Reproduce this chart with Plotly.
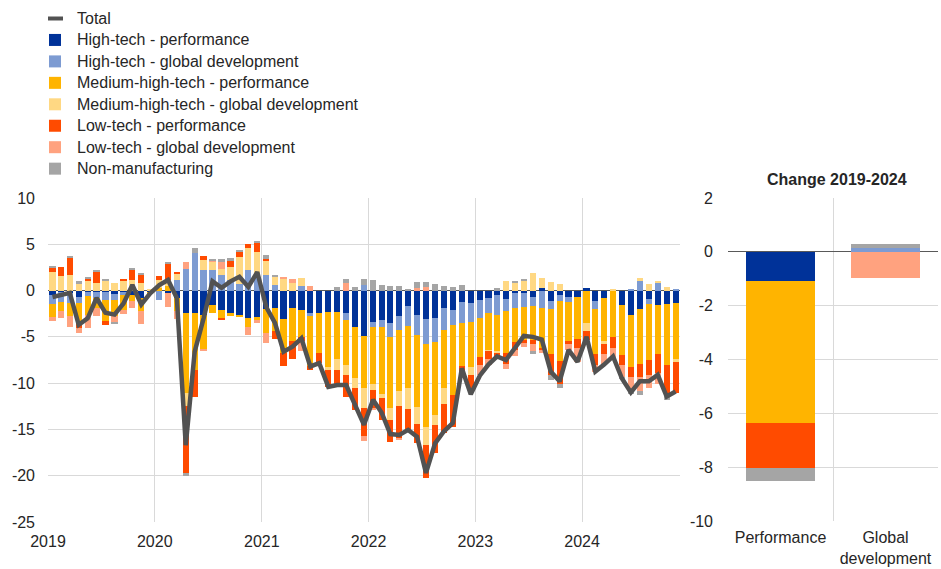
import plotly.graph_objects as go
import pandas as pd

# ---------------- data ----------------
months = pd.date_range("2019-01-01", periods=71, freq="MS")

ht_perf = [-0.45, -0.2, -0.3, -0.65, -0.1, -0.2, -0.1, -0.4, -0.2, -0.5, -0.85, -0.2,
           0.0, -0.3, -0.8, -2.4, -2.45, -2.6, -1.55, -2.1, -2.45, -2.6, -3.0, -2.9,
           -2.0, -1.9, -3.1, -1.9, -2.1, -2.45, -2.45, -2.3, -2.27, -2.45, -3.9, -4.95,
           -3.35, -3.15, -3.5, -2.8, -1.7, -2.6, -3.1, -3.0, -1.9, -2.1, -1.2, -1.35,
           -1.05, -0.85, -0.5, -0.95, -0.3, -0.3, -0.7, 0.3, -1.15, -0.45, -0.7, -0.7,
           0.3, -1.15, -0.85, 0.0, -1.6, -2.65, -1.95, -0.95, -1.6, -1.5, -1.3]
ht_glob = [-1.0, -1.0, -1.0, -0.7, -0.45, -0.6, -0.9, -0.6, -0.25, 0.0, 0.0, 0.0,
           -1.0, 0.0, 1.1, 2.35, 4.1, 2.2, 2.25, 1.7, 1.15, 0.7, 2.25, 1.7,
           1.7, 0.6, 0.0, 0.0, 0.5, -0.35, 0.0, 0.0, 0.0, -0.7, 0.0, 0.6,
           -0.6, -0.8, -1.55, -1.5, -2.1, -2.2, -2.65, -2.6, -2.4, -1.6, -2.3, -2.0,
           -1.9, -1.55, -2.1, -1.3, -1.55, -1.45, -0.95, -1.9, -0.8, -0.7, -0.5, 0.0,
           0.0, -0.85, 0.0, 0.0, 0.0, 0.2, 1.0, -0.45, 0.85, 0.0, 0.2]
mht_perf = [-1.4, -1.0, -1.5, -2.0, -2.1, -1.05, -2.3, -1.8, -1.65, -0.6, -1.35, -0.2,
            0.3, 0.5, -1.4, -8.7, -6.15, -3.8, -0.9, -0.9, -0.25, -0.3, -0.9, -0.3,
            -2.6, -2.5, -3.65, -3.6, -2.9, -5.4, -4.3, -6.0, -5.13, -4.85, -5.55, -5.6,
            -6.15, -7.2, -7.65, -6.6, -6.75, -7.8, -8.95, -7.8, -6.25, -7.55, -4.6, -4.95,
            -4.2, -4.05, -4.0, -4.45, -3.75, -3.6, -3.7, -4.4, -4.95, -6.45, -4.25, -4.55,
            -3.55, -4.8, -4.6, -5.0, -5.4, -5.6, -5.95, -6.1, -5.2, -6.55, -6.05]
mht_glob = [2.0, 1.6, 1.7, 0.7, 1.0, 0.8, 1.1, 0.85, 1.05, 1.15, 0.8, 0.1,
            0.85, 0.6, 0.7, -1.4, 0.0, 1.05, 0.85, 0.6, 1.45, 2.95, 2.35, 2.5,
            1.6, 0.9, 1.2, 0.8, 0.85, 0.0, 0.0, -0.3, -1.15, -1.1, -1.1, -2.15,
            -0.6, -0.45, -1.25, -1.6, -2.25, -1.8, -1.95, -1.1, -1.7, 0.0, 0.0, -0.8,
            0.0, -0.1, -0.1, 1.0, 0.85, 1.1, 1.85, 1.1, 0.95, 0.75, 0.0, 0.0,
            -0.85, 0.0, -0.35, 0.2, 0.0, 0.0, 0.35, 0.75, 0.15, 0.4, -0.35]
lt_perf = [0.45, 0.9, 1.85, -0.7, 0.25, 1.25, -0.4, 0.0, 0.15, 1.1, 0.95, 0.0,
           0.45, 1.8, 0.25, -7.2, -2.85, 0.45, 0.0, -0.15, 0.7, 0.55, 0.4, 0.9,
           0.1, -0.8, -1.45, -1.9, -0.5, -0.35, -1.1, -1.8, -1.6, -2.35, -2.35, -3.05,
           -2.0, -2.35, -2.4, -3.5, -2.4, -2.1, -3.6, -3.05, -3.15, -3.45, -0.9, -1.6,
           -0.9, -0.8, -0.65, -1.2, -0.85, -0.35, -0.4, -0.2, -2.25, -2.45, -0.35, -0.95,
           -0.9, -1.2, -1.1, -1.25, -1.05, -1.05, -1.4, -1.6, -2.15, -3.05, -3.4]
lt_glob = [-0.45, -0.8, -1.1, -0.5, -1.35, -0.95, 0.0, -0.6, -0.4, -0.75, -1.45, 0.0,
           0.0, -1.5, -0.9, 0.75, 0.0, -0.15, 0.2, 0.8, 0.0, 0.0, -0.9, -0.3,
           -1.1, 0.0, 0.25, 0.4, -1.0, 0.5, 0.0, 0.0, -0.2, 0.8, 0.0, -0.55,
           -0.2, 0.0, 0.0, -0.15, 0.0, 0.3, 0.35, 0.0, 0.0, 0.0, 0.0, -0.3,
           -1.1, -0.65, 0.0, -0.6, -0.6, -0.4, -0.8, -0.2, 0.0, 0.0, -0.6, -1.5,
           0.0, -0.75, -1.1, -1.05, -1.35, -1.6, -1.6, -1.45, -1.15, -0.25, 0.0]
non_man = [0.1, 0.0, 0.1, 0.3, 0.15, 0.2, 0.1, -0.15, 0.0, 0.15, 0.15, 0.0,
           0.0, 0.1, 0.0, -0.3, 0.45, 0.0, 0.1, 0.3, 0.2, 0.1, 0.0, 0.25,
           0.4, 0.2, 0.0, 0.0, 0.0, 0.0, 0.0, 0.0, 0.35, 0.5, 0.4, 0.7,
           1.1, 0.6, 0.5, 0.45, 0.15, 0.6, 0.6, 0.7, 0.5, 0.35, 0.6, 0.0,
           0.0, 0.0, 0.25, 0.0, 0.15, 0.1, -0.3, 0.0, -0.55, -0.5, 0.0, 0.0,
           0.0, 0.0, 0.0, 0.0, -0.1, -0.3, -0.4, 0.0, 0.0, -0.5, 0.0]
total = [-0.7, -0.5, -0.25, -3.7, -3.0, -0.8, -2.4, -2.6, -1.4, 0.6, -1.5, -0.3,
         0.6, 1.15, -0.8, -16.7, -6.6, -3.0, 1.0, 0.3, 1.0, 1.5, 0.4, 2.0,
         -1.8, -3.5, -6.6, -6.05, -5.15, -8.2, -7.85, -10.4, -10.2, -10.2, -12.5, -14.5,
         -11.8, -13.2, -15.5, -15.6, -15.05, -15.8, -19.7, -16.5, -15.2, -14.3, -8.4, -11.2,
         -9.2, -8.0, -7.1, -7.5, -6.2, -4.9, -5.0, -5.3, -8.75, -9.8, -6.4, -7.7,
         -5.0, -8.75, -8.0, -7.1, -9.5, -11.0, -9.8, -9.8, -9.1, -11.45, -10.9]

change_cats = ["Performance", "Global<br>development"]
chg_ht_perf = [-1.09, 0.0]
chg_ht_glob = [0.0, 0.15]
chg_mht_perf = [-5.28, 0.0]
chg_mht_glob = [0.0, 0.0]
chg_lt_perf = [-1.67, 0.0]
chg_lt_glob = [0.0, -0.99]
chg_non_man = [-0.46, 0.13]

year_ticks = ["2019", "2020", "2021", "2022", "2023", "2024"]
main_yticks = [10, 5, 0, -5, -10, -15, -20, -25]
change_yticks = [2, 0, -2, -4, -6, -8, -10]

# ---------------- styling ----------------
series = [
    ("High-tech - performance", ht_perf, chg_ht_perf, "#003299"),
    ("High-tech - global development", ht_glob, chg_ht_glob, "#7d9bd2"),
    ("Medium-high-tech - performance", mht_perf, chg_mht_perf, "#ffb400"),
    ("Medium-high-tech - global development", mht_glob, chg_mht_glob, "#ffd883"),
    ("Low-tech - performance", lt_perf, chg_lt_perf, "#ff4b00"),
    ("Low-tech - global development", lt_glob, chg_lt_glob, "#ffa27f"),
    ("Non-manufacturing", non_man, chg_non_man, "#a5a5a5"),
]
TOTAL_COLOR = "#525252"

FONT = "Arial, Liberation Sans, sans-serif"
GRID = "#d9d9d9"
TXT = "#262626"
FS = 16
W, H = 941, 569
month_ms = 30.44 * 86400000

fig = go.Figure()
for name, vals, chg, col in series:
    fig.add_trace(go.Bar(
        x=months, y=vals, name=name, marker_color=col, marker_line_width=0,
        xperiod="M1", xperiodalignment="middle", width=0.7 * month_ms,
        showlegend=False, xaxis="x", yaxis="y"))
    fig.add_trace(go.Bar(
        x=[0, 1], y=chg, name=name, marker_color=col, marker_line_width=0,
        width=0.66, showlegend=False, xaxis="x2", yaxis="y2"))

fig.add_trace(go.Scatter(
    x=months, y=total, name="Total", mode="lines",
    line=dict(color=TOTAL_COLOR, width=4.5),
    xperiod="M1", xperiodalignment="middle",
    showlegend=False, xaxis="x", yaxis="y"))

# ---------------- legend (drawn as shapes + text) ----------------
shapes = []
annotations = []
leg_items = [("Total", TOTAL_COLOR, "line")] + [(s[0], s[3], "box") for s in series]
y0, dy = 18.5, 21.45
for i, (label, col, kind) in enumerate(leg_items):
    yc = y0 + i * dy
    if kind == "line":
        shapes.append(dict(type="line", xref="paper", yref="paper",
                           x0=48 / W, x1=63 / W, y0=1 - yc / H, y1=1 - yc / H,
                           line=dict(color=col, width=4)))
    else:
        shapes.append(dict(type="rect", xref="paper", yref="paper",
                           x0=49 / W, x1=61 / W, y0=1 - (yc - 6) / H, y1=1 - (yc + 6) / H,
                           fillcolor=col, line=dict(width=0)))
    annotations.append(dict(text=label, xref="paper", yref="paper",
                            x=75 / W, y=1 - yc / H, xanchor="left", yanchor="middle",
                            showarrow=False, font=dict(size=FS, color=TXT, family=FONT)))

annotations.append(dict(text="<b>Change 2019-2024</b>", xref="paper", yref="paper",
                        x=837 / W, y=1 - 180 / H, xanchor="center", yanchor="middle",
                        showarrow=False, font=dict(size=FS, color=TXT, family=FONT)))

fig.update_layout(
    width=W, height=H,
    margin=dict(l=0, r=0, t=0, b=0, pad=0),
    paper_bgcolor="white", plot_bgcolor="white",
    barmode="relative", bargap=0,
    font=dict(family=FONT, size=FS, color=TXT),
    showlegend=False,
    xaxis=dict(domain=[48 / W, 680 / W], type="date", automargin=False,
               range=["2019-01-01", "2024-12-01"],
               tickvals=[f"{y}-01-01" for y in year_ticks],
               ticktext=year_ticks,
               showgrid=True, gridcolor=GRID, gridwidth=1,
               showline=False, zeroline=False, ticks="",
               ticklabelstandoff=8,
               tickfont=dict(size=FS, color=TXT)),
    yaxis=dict(domain=[1 - 522 / H, 1 - 198 / H], automargin=False,
               range=[-25, 10], tickvals=main_yticks,
               ticktext=[str(v) for v in main_yticks],
               showgrid=True, gridcolor=GRID, gridwidth=1,
               zeroline=True, zerolinecolor="#595959", zerolinewidth=1,
               showline=False, ticks="", ticklabelstandoff=12,
               tickfont=dict(size=FS, color=TXT)),
    xaxis2=dict(domain=[728 / W, 938 / W], anchor="y2", automargin=False,
                range=[-0.5, 1.5], tickvals=[0, 1], ticktext=change_cats,
                showgrid=False, zeroline=False, showline=False, ticks="",
                minor=dict(tickvals=[-0.5, 0.5], showgrid=True,
                           gridcolor=GRID, gridwidth=1, ticks=""),
                ticklabelstandoff=5,
                tickfont=dict(size=FS, color=TXT)),
    yaxis2=dict(domain=[1 - 521 / H, 1 - 198 / H], anchor="x2", automargin=False,
                range=[-10, 2], tickvals=change_yticks,
                ticktext=[str(v) for v in change_yticks],
                showgrid=True, gridcolor=GRID, gridwidth=1,
                zeroline=True, zerolinecolor="#595959", zerolinewidth=1,
                showline=False, ticks="", ticklabelstandoff=14,
                tickfont=dict(size=FS, color=TXT)),
    shapes=shapes,
    annotations=annotations,
)

fig.write_html("out.html",
               config={"displayModeBar": False},
               post_script="document.body.style.margin='0';document.body.style.overflow='hidden';")
